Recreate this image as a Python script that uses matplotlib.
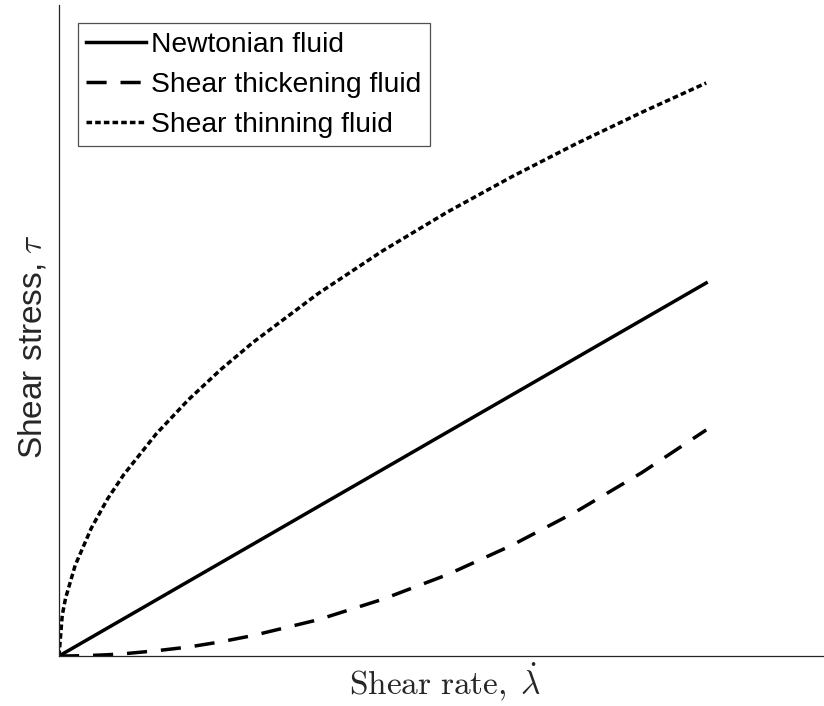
import matplotlib
matplotlib.use('Agg')
import matplotlib.pyplot as plt

plt.rcParams['font.family'] = ['Liberation Sans', 'DejaVu Sans']
plt.rcParams['mathtext.fontset'] = 'cm'

# Shear rate values (arbitrary units)
rate = [0, 0.05, 0.1, 0.25, 0.5, 0.75, 1, 1.5, 2, 2.5, 3, 4, 5, 6, 7, 8, 9, 10]

# Shear stress read for each fluid type
newtonian = [0, 0.05, 0.1, 0.25, 0.5, 0.75, 1, 1.5, 2, 2.5, 3, 4, 5, 6, 7, 8, 9, 10]
thickening = [0, 0.0002, 0.0006, 0.004, 0.015, 0.034, 0.06, 0.14, 0.24, 0.38, 0.55, 0.97, 1.52, 2.18, 2.97, 3.88, 4.91, 6.06]
thinning = [0, 1.09, 1.54, 2.43, 3.43, 4.21, 4.86, 5.95, 6.87, 7.68, 8.41, 9.71, 10.86, 11.9, 12.85, 13.74, 14.57, 15.36]

labels = ['Newtonian fluid', 'Shear thickening fluid', 'Shear thinning fluid']

fig = plt.figure(figsize=(8.24, 7.06), dpi=100)
ax = fig.add_axes([59 / 824, 50 / 706, 765 / 824, 651 / 706])

lw = 2.5
ax.plot(rate, newtonian, color='k', linewidth=lw, linestyle='-', label=labels[0])
ax.plot(rate, thickening, color='k', linewidth=lw, linestyle=(0, (5.8, 4.0)), label=labels[1])
ax.plot(rate, thinning, color='k', linewidth=lw, linestyle=(0, (1.6, 0.9)), label=labels[2])

ax.set_xlim(0, 11.82)
ax.set_ylim(0, 17.45)
ax.set_xticks([])
ax.set_yticks([])
for side in ['top', 'right']:
    ax.spines[side].set_visible(False)
for side in ['left', 'bottom']:
    ax.spines[side].set_color('#262626')
    ax.spines[side].set_linewidth(0.9)

ax.set_xlabel(r'$\mathrm{Shear\ rate,}\;\dot{\lambda}$', fontsize=24, color='#262626')
ax.set_ylabel(r'Shear stress, $\tau$', fontsize=24, color='#262626')
ax.xaxis.set_label_coords(0.505, -0.008, transform=ax.transAxes)
ax.xaxis.label.set_va('top')
ax.yaxis.set_label_coords(-0.035, 0.475)
ax.yaxis.label.set_va('center')

leg = ax.legend(loc='upper left', bbox_to_anchor=(0.0248, 0.972), fontsize=20.3,
                frameon=True, fancybox=False, edgecolor='#262626',
                handlelength=2.1, handletextpad=0.2, labelspacing=0.5,
                borderpad=0.3, borderaxespad=0)
leg.get_frame().set_linewidth(0.9)

fig.savefig('out.png', dpi=100)
